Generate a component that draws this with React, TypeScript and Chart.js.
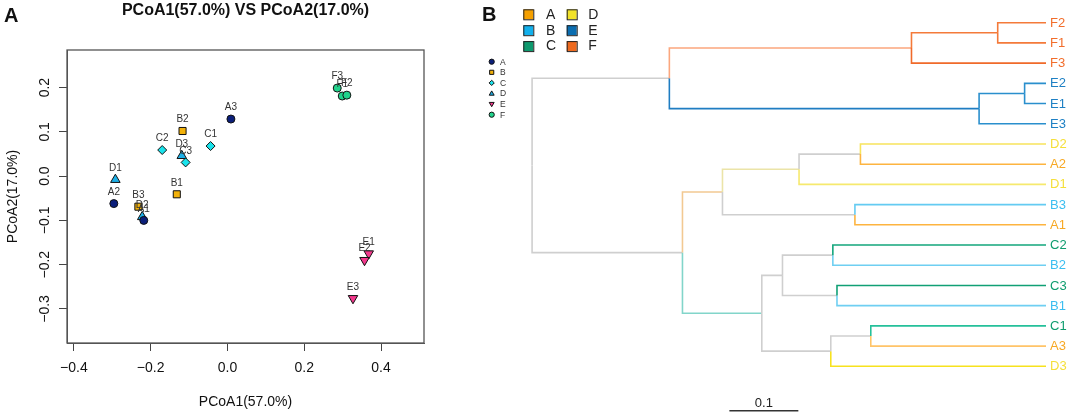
import React, { useEffect, useRef } from "react";
import { Chart, registerables } from "chart.js";

Chart.register(...registerables);

const FONT = "'Liberation Sans', Arial, Helvetica, sans-serif";

// ---------------- Panel A : PCoA scatter ----------------
const groups = ["A", "B", "C", "D", "E", "F"];
const groupPointStyles = ["circle", "rect", "rectRot", "triangle", "triangle", "circle"];
const groupPointRotation = [0, 0, 0, 0, 180, 0];
const groupPointColors = ["#0B1F7A", "#F2B10A", "#19E3EC", "#1DB0E8", "#F2388C", "#21D38C"];
const groupPointRadius = [4, 5, 4.5, 5.5, 5.5, 4];

const sampleNames = ["A1", "A2", "A3", "B1", "B2", "B3", "C1", "C2", "C3", "D1", "D2", "D3", "E1", "E2", "E3", "F1", "F2", "F3"];
const pcoa1 = [-0.218, -0.296, 0.009, -0.132, -0.117, -0.232, -0.044, -0.170, -0.109, -0.292, -0.222, -0.119, 0.368, 0.357, 0.327, 0.299, 0.311, 0.286];
const pcoa2 = [-0.100, -0.062, 0.129, -0.041, 0.102, -0.069, 0.068, 0.059, 0.031, -0.008, -0.092, 0.046, -0.175, -0.190, -0.276, 0.181, 0.183, 0.199];

const xTicks = [-0.4, -0.2, 0.0, 0.2, 0.4];
const yTicks = [-0.3, -0.2, -0.1, 0.0, 0.1, 0.2];
const xMin = -0.418, xMax = 0.512;
const yMin = -0.377, yMax = 0.285;

const titleA = "PCoA1(57.0%) VS PCoA2(17.0%)";
const xTitle = "PCoA1(57.0%)";
const yTitle = "PCoA2(17.0%)";

// ---------------- Panel B : dendrogram ----------------
const leafOrder = ["F2", "F1", "F3", "E2", "E1", "E3", "D2", "A2", "D1", "B3", "A1", "C2", "B2", "C3", "B1", "C1", "A3", "D3"];
const mergeLeft = ["F2", "n1", "E2", "n3", "n2", "D2", "n6", "B3", "n7", "C2", "C3", "n10", "C1", "n13", "n12", "n9", "n5"];
const mergeRight = ["F1", "F3", "E1", "E3", "n4", "A2", "D1", "A1", "n8", "B2", "B1", "n11", "A3", "D3", "n14", "n15", "n16"];
const mergeHeight = [0.070, 0.195, 0.031, 0.097, 0.546, 0.269, 0.358, 0.277, 0.469, 0.309, 0.303, 0.382, 0.254, 0.312, 0.412, 0.527, 0.745];
const branchColorLeft = ["#F47A3A", "#F47A3A", "#2A8FCD", "#2A8FCD", "#FBA77E", "#F7E45C", "#CFCFCF", "#64CBF2", "#EBE4A8", "#13A67C", "#10A075", "#CFCFCF", "#25C09A", "#CFCFCF", "#CFCFCF", "#F2C992", "#CFCFCF"];
const branchColorRight = ["#F47A3A", "#F06A2A", "#2A8FCD", "#2A8FCD", "#1F7DC2", "#FDB440", "#F6E96E", "#FDB440", "#CFCFCF", "#6FCFF2", "#6FCFF2", "#CFCFCF", "#FFC468", "#F7E21E", "#CFCFCF", "#82D5CA", "#CFCFCF"];
const leafLabelColors = ["#F7A823", "#3BBEF0", "#0E9C6E", "#F5DF3A", "#1E80C4", "#F26D2B"]; // by group A..F
const legendBColors = ["#F5A000", "#12B0EC", "#0E9A6E", "#F2E22A", "#0B6DB0", "#EE6A1F"]; // A..F
const scaleBarStart = 0.359;
const scaleBarLength = 0.1;
const scaleBarRow = 19.2;
const scaleBarLabel = "0.1";

const fmt = (v: number) => {
  const s = Math.abs(v).toFixed(1);
  return v < -1e-9 ? "\u2212" + s : s;
};

function drawMarker(ctx: CanvasRenderingContext2D, style: string, rot: number, x: number, y: number, r: number) {
  ctx.beginPath();
  if (style === "circle") {
    ctx.arc(x, y, r, 0, Math.PI * 2);
  } else if (style === "rect") {
    const s = r * 0.8;
    ctx.rect(x - s, y - s, 2 * s, 2 * s);
  } else if (style === "rectRot") {
    ctx.moveTo(x, y - r);
    ctx.lineTo(x + r, y);
    ctx.lineTo(x, y + r);
    ctx.lineTo(x - r, y);
    ctx.closePath();
  } else if (style === "triangle") {
    const d = rot === 180 ? -1 : 1;
    ctx.moveTo(x, y - d * r);
    ctx.lineTo(x + r * 0.95, y + d * r * 0.65);
    ctx.lineTo(x - r * 0.95, y + d * r * 0.65);
    ctx.closePath();
  }
  ctx.fill();
  ctx.stroke();
}

export default function App() {
  const refA = useRef<HTMLCanvasElement>(null);
  const refB = useRef<HTMLCanvasElement>(null);

  useEffect(() => {
    document.body.style.margin = "0";

    // ---------- Chart A ----------
    const datasetsA = groups.map((g, gi) => {
      const idx = sampleNames.map((n, i) => (n[0] === g ? i : -1)).filter((i) => i >= 0);
      return {
        label: g,
        data: idx.map((i) => ({ x: pcoa1[i], y: pcoa2[i] })),
        pointStyle: groupPointStyles[gi] as any,
        pointRotation: groupPointRotation[gi],
        pointRadius: groupPointRadius[gi],
        backgroundColor: groupPointColors[gi],
        borderColor: "#111",
        borderWidth: 1,
      };
    });

    const pluginA = {
      id: "decorA",
      afterDraw(chart: any) {
        const { ctx, chartArea, scales } = chart;
        ctx.save();
        // box
        ctx.strokeStyle = "#555";
        ctx.lineWidth = 1.3;
        ctx.strokeRect(chartArea.left, chartArea.top, chartArea.right - chartArea.left, chartArea.bottom - chartArea.top);
        // title
        ctx.fillStyle = "#111";
        ctx.font = `bold 16px ${FONT}`;
        ctx.textAlign = "center";
        ctx.textBaseline = "alphabetic";
        ctx.fillText(titleA, (chartArea.left + chartArea.right) / 2, 15);
        // panel letter
        ctx.font = `bold 20px ${FONT}`;
        ctx.textAlign = "left";
        ctx.fillText("A", 4, 22);
        // point labels
        ctx.font = `10px ${FONT}`;
        ctx.fillStyle = "#333";
        ctx.textAlign = "center";
        ctx.textBaseline = "middle";
        sampleNames.forEach((n, i) => {
          const px = scales.x.getPixelForValue(pcoa1[i]);
          const py = scales.y.getPixelForValue(pcoa2[i]);
          ctx.fillText(n, px, py - 11.5);
        });
        // mini legend
        ctx.font = `8.5px ${FONT}`;
        ctx.textAlign = "left";
        groups.forEach((g, gi) => {
          const y = 61.7 + gi * 10.6;
          ctx.fillStyle = groupPointColors[gi];
          ctx.strokeStyle = "#111";
          ctx.lineWidth = 1;
          drawMarker(ctx, groupPointStyles[gi], groupPointRotation[gi], 491.7, y, 2.6);
          ctx.fillStyle = "#333";
          ctx.fillText(g, 500, y + 0.5);
        });
        ctx.restore();
      },
    };

    const axisGrid = { display: true, drawOnChartArea: false, drawTicks: true, tickLength: 8, color: "#444", lineWidth: 1 };
    const a = new Chart(refA.current!, {
      type: "scatter",
      data: { datasets: datasetsA as any },
      options: {
        animation: false,
        responsive: false,
        devicePixelRatio: 1,
        layout: { padding: { left: 0, top: 50, right: 96, bottom: 0 } },
        plugins: { legend: { display: false }, tooltip: { enabled: false } },
        scales: {
          x: {
            type: "linear",
            min: xMin,
            max: xMax,
            afterBuildTicks: (s: any) => { s.ticks = xTicks.map((v) => ({ value: v })); },
            afterFit: (s: any) => { s.height = 71; },
            grid: axisGrid as any,
            border: { display: true, color: "#555", width: 1 },
            ticks: { padding: 9, autoSkip: false, maxRotation: 0, minRotation: 0, color: "#111", font: { family: FONT, size: 14 }, callback: (v: any) => fmt(Number(v)) },
            title: { display: true, text: xTitle, color: "#111", font: { family: FONT, size: 14 }, padding: { top: 0, bottom: 3 } },
          },
          y: {
            type: "linear",
            min: yMin,
            max: yMax,
            afterBuildTicks: (s: any) => { s.ticks = yTicks.map((v) => ({ value: v })); },
            afterFit: (s: any) => { s.width = 67; },
            grid: axisGrid as any,
            border: { display: true, color: "#555", width: 1 },
            ticks: { padding: 0, autoSkip: false, minRotation: 90, maxRotation: 90, crossAlign: "center", color: "#111", font: { family: FONT, size: 14 }, callback: (v: any) => fmt(Number(v)) },
            title: { display: true, text: yTitle, color: "#111", font: { family: FONT, size: 14 }, padding: { top: 5, bottom: 0 } },
          },
        },
      },
      plugins: [pluginA],
    } as any);

    // ---------- Chart B ----------
    const yPos: Record<string, number> = {};
    const hPos: Record<string, number> = {};
    leafOrder.forEach((n, i) => { yPos[n] = i; hPos[n] = 0; });
    mergeHeight.forEach((h, k) => {
      const id = "n" + (k + 1);
      yPos[id] = (yPos[mergeLeft[k]] + yPos[mergeRight[k]]) / 2;
      hPos[id] = h;
    });
    const datasetsB: any[] = [];
    mergeHeight.forEach((h, k) => {
      const id = "n" + (k + 1);
      [[mergeLeft[k], branchColorLeft[k]], [mergeRight[k], branchColorRight[k]]].forEach(([child, col]) => {
        datasetsB.push({
          data: [
            { x: h, y: yPos[id] },
            { x: h, y: yPos[child] },
            { x: hPos[child], y: yPos[child] },
          ],
          showLine: true,
          pointRadius: 0,
          borderColor: col,
          borderWidth: 1.6,
          fill: false,
          tension: 0,
        });
      });
    });
    datasetsB.push({
      data: [
        { x: scaleBarStart, y: scaleBarRow },
        { x: scaleBarStart + scaleBarLength, y: scaleBarRow },
      ],
      showLine: true,
      pointRadius: 0,
      borderColor: "#333",
      borderWidth: 1.6,
      clip: false,
    });

    const pluginB = {
      id: "decorB",
      afterDraw(chart: any) {
        const { ctx, scales } = chart;
        ctx.save();
        // leaf labels
        ctx.font = `13px ${FONT}`;
        ctx.textAlign = "left";
        ctx.textBaseline = "middle";
        const x0 = scales.x.getPixelForValue(0);
        leafOrder.forEach((n, i) => {
          ctx.fillStyle = leafLabelColors[groups.indexOf(n[0])];
          ctx.fillText(n, x0 + 4, scales.y.getPixelForValue(i) + 0.5);
        });
        // scale bar label
        ctx.fillStyle = "#222";
        ctx.textAlign = "center";
        ctx.textBaseline = "alphabetic";
        const bx = (scales.x.getPixelForValue(scaleBarStart) + scales.x.getPixelForValue(scaleBarStart + scaleBarLength)) / 2;
        ctx.fillText(scaleBarLabel, bx, 407);
        // panel letter
        ctx.fillStyle = "#111";
        ctx.font = `bold 20px ${FONT}`;
        ctx.textAlign = "left";
        ctx.fillText("B", 12, 21);
        // group legend
        ctx.font = `14px ${FONT}`;
        ctx.textBaseline = "middle";
        groups.forEach((g, gi) => {
          const col = Math.floor(gi / 3);
          const row = gi % 3;
          const sx = col === 0 ? 53.3 : 96.7;
          const tx = col === 0 ? 76 : 118.3;
          const cy = 14.3 + row * 15.9;
          ctx.fillStyle = legendBColors[gi];
          ctx.fillRect(sx, cy - 5, 10, 10);
          ctx.strokeStyle = "#222";
          ctx.lineWidth = 1;
          ctx.strokeRect(sx + 0.5, cy - 4.5, 10, 10);
          ctx.fillStyle = "#222";
          ctx.fillText(g, tx, cy + 0.5);
        });
        ctx.restore();
      },
    };

    const b = new Chart(refB.current!, {
      type: "scatter",
      data: { datasets: datasetsB },
      options: {
        animation: false,
        responsive: false,
        devicePixelRatio: 1,
        layout: { padding: { left: 0, right: 26, top: 2.5, bottom: 27.5 } },
        plugins: { legend: { display: false }, tooltip: { enabled: false } },
        scales: {
          x: { type: "linear", reverse: true, min: 0, max: 0.835, display: false },
          y: { type: "linear", reverse: true, min: -1, max: 18, display: false },
        },
      },
      plugins: [pluginB],
    } as any);

    return () => {
      a.destroy();
      b.destroy();
    };
  }, []);

  return (
    <div style={{ position: "relative", width: 1072, height: 414, background: "#fff", overflow: "hidden" }}>
      <canvas ref={refA} width={520} height={414} style={{ position: "absolute", left: 0, top: 0, width: 520, height: 414 }} />
      <canvas ref={refB} width={602} height={414} style={{ position: "absolute", left: 470, top: 0, width: 602, height: 414 }} />
    </div>
  );
}
